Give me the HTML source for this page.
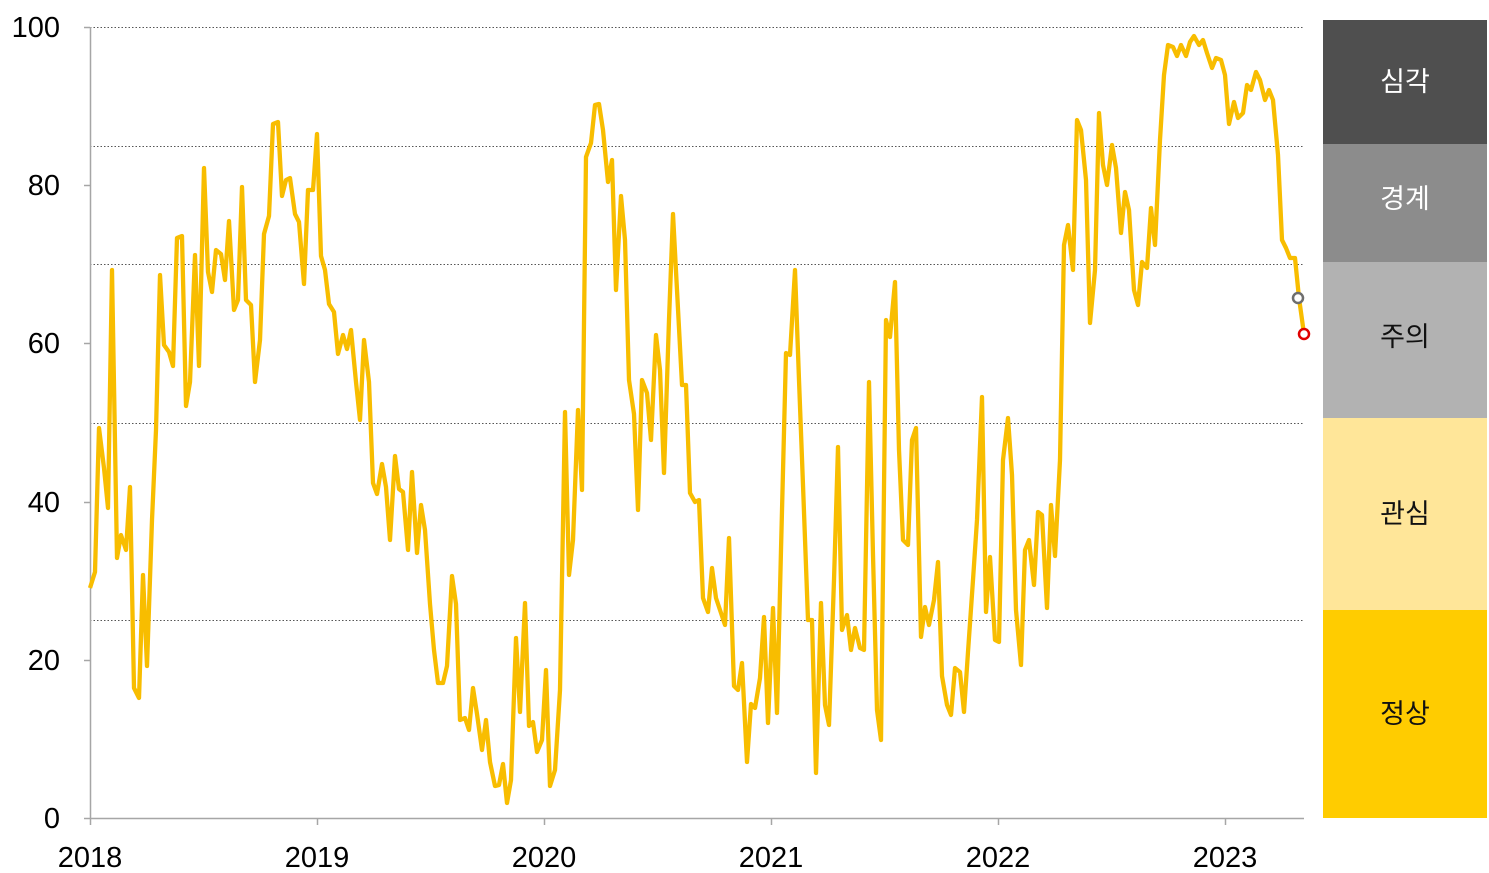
<!DOCTYPE html>
<html><head><meta charset="utf-8"><style>
html,body{margin:0;padding:0;background:#fff;}
svg{display:block;}
</style></head><body>
<svg width="1489" height="873" viewBox="0 0 1489 873" xmlns="http://www.w3.org/2000/svg" font-family="'Liberation Sans','Noto Sans CJK KR',sans-serif">
<g stroke="#555" stroke-width="1" stroke-dasharray="1.5,2">
<line x1="90" y1="27.5" x2="1304" y2="27.5"/>
<line x1="90" y1="146.5" x2="1304" y2="146.5"/>
<line x1="90" y1="264.5" x2="1304" y2="264.5"/>
<line x1="90" y1="423.5" x2="1304" y2="423.5"/>
<line x1="90" y1="620.5" x2="1304" y2="620.5"/>
</g>
<g stroke="#a6a6a6" stroke-width="1.5">
<line x1="90.5" y1="27" x2="90.5" y2="818"/>
<line x1="90" y1="818.5" x2="1304" y2="818.5"/>
<line x1="84" y1="27.5" x2="90" y2="27.5"/>
<line x1="84" y1="185.5" x2="90" y2="185.5"/>
<line x1="84" y1="343.5" x2="90" y2="343.5"/>
<line x1="84" y1="502.5" x2="90" y2="502.5"/>
<line x1="84" y1="660.5" x2="90" y2="660.5"/>
<line x1="84" y1="818.5" x2="90" y2="818.5"/>
<line x1="90.5" y1="818" x2="90.5" y2="825"/>
<line x1="317.5" y1="818" x2="317.5" y2="825"/>
<line x1="544.5" y1="818" x2="544.5" y2="825"/>
<line x1="771.5" y1="818" x2="771.5" y2="825"/>
<line x1="998.5" y1="818" x2="998.5" y2="825"/>
<line x1="1225.5" y1="818" x2="1225.5" y2="825"/>
</g>
<g font-size="29" fill="#000" text-anchor="end">
<text x="60" y="37">100</text>
<text x="60" y="195">80</text>
<text x="60" y="353">60</text>
<text x="60" y="512">40</text>
<text x="60" y="670">20</text>
<text x="60" y="828">0</text>
</g>
<g font-size="29" fill="#000" text-anchor="middle">
<text x="90" y="867">2018</text>
<text x="317" y="867">2019</text>
<text x="544" y="867">2020</text>
<text x="771" y="867">2021</text>
<text x="998" y="867">2022</text>
<text x="1225" y="867">2023</text>
</g>
<polyline fill="none" stroke="#f8bd00" stroke-width="4.3" stroke-linejoin="round" points="90,588 95,572 99,428 104,468 108,508 112,270 117,558 121,535 126,550 130,487 134,688 139,698 143,575 147,666 152,520 156,430 160,275 164,345 169,352 173,366 177,238 182,236 186,406 190,382 195,255 199,366 204,168 208,272 212,292 216,250 221,254 225,280 229,221 234,310 238,300 242,187 246,300 251,305 255,382 260,340 264,234 269,216 273,124 278,122 282,196 286,180 290,178 295,214 299,222 304,284 308,190 313,190 317,134 321,256 325,270 329,304 334,312 338,354 343,335 347,349 351,330 356,382 360,420 364,340 369,382 373,483 377,494 382,464 386,487 390,540 395,456 399,489 403,492 408,550 412,472 417,553 421,505 425,530 430,604 434,650 438,683 443,683 447,666 452,576 456,604 460,720 465,718 469,730 473,688 477,714 482,750 486,720 490,762 495,786 499,785 503,764 507,803 511,780 516,638 520,712 525,603 529,726 533,722 537,752 542,740 546,670 550,786 555,770 560,690 565,412 569,575 573,540 578,410 582,490 586,157 591,143 595,105 599,104 603,130 608,182 612,160 616,290 621,196 625,240 629,380 634,414 638,510 642,380 647,393 651,440 656,335 660,370 664,473 669,320 673,214 677,290 682,385 686,385 690,493 695,502 699,500 703,598 708,612 712,568 716,598 721,613 725,625 729,538 734,686 738,690 742,663 747,762 751,704 755,708 760,678 764,617 768,723 773,608 777,713 781,550 786,353 790,355 795,270 799,380 803,485 808,620 812,620 816,773 821,603 825,705 829,725 834,580 838,447 842,630 847,615 851,650 855,628 860,648 864,650 869,382 873,555 877,710 881,740 886,320 890,337 895,282 899,450 903,540 908,545 912,440 916,428 921,637 925,607 929,625 934,600 938,562 942,676 947,705 951,715 955,668 960,672 964,712 968,652 973,580 977,520 982,397 986,612 990,557 995,640 999,642 1003,460 1008,418 1012,475 1016,610 1021,665 1025,550 1029,540 1034,585 1038,512 1042,515 1047,608 1051,505 1055,556 1060,460 1064,245 1068,225 1073,270 1077,120 1081,130 1086,180 1090,323 1095,270 1099,113 1103,165 1107,185 1112,145 1116,168 1121,233 1125,192 1129,210 1134,290 1138,305 1142,262 1147,268 1151,208 1155,245 1160,140 1164,75 1168,45 1173,47 1177,56 1181,45 1186,56 1190,42 1194,36 1199,45 1203,40 1207,53 1212,68 1216,58 1221,60 1225,75 1229,124 1234,102 1238,118 1243,113 1247,85 1251,90 1256,72 1260,80 1265,100 1269,90 1273,100 1278,155 1282,240 1286,248 1290,258 1295,258 1299,298 1304,334"/>
<circle cx="1298" cy="298" r="5" fill="#fff" stroke="#6e6e6e" stroke-width="2.5"/>
<circle cx="1304" cy="334" r="5" fill="#fff" stroke="#e00000" stroke-width="2.5"/>
<rect x="1323" y="20" width="164" height="124" fill="#4f4f4f"/>
<rect x="1323" y="144" width="164" height="118" fill="#8c8c8c"/>
<rect x="1323" y="262" width="164" height="156" fill="#b2b2b2"/>
<rect x="1323" y="418" width="164" height="192" fill="#ffe699"/>
<rect x="1323" y="610" width="164" height="208" fill="#ffcc00"/>
<g font-size="27" text-anchor="middle">
<text x="1405" y="91" fill="#fff">심각</text>
<text x="1405" y="208" fill="#fff">경계</text>
<text x="1405" y="346" fill="#111">주의</text>
<text x="1405" y="523" fill="#111">관심</text>
<text x="1405" y="723" fill="#111">정상</text>
</g>
</svg>
</body></html>
